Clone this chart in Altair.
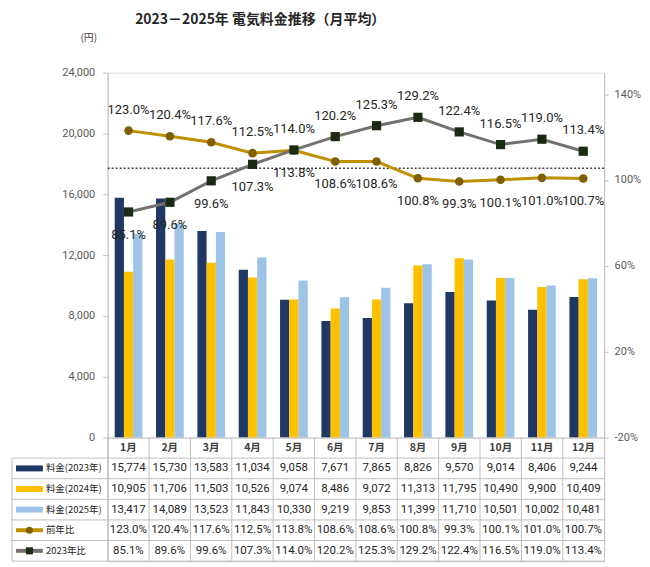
import altair as alt
import pandas as pd

# ---------------- data ----------------
MONTHS = ["1月", "2月", "3月", "4月", "5月", "6月", "7月", "8月", "9月", "10月", "11月", "12月"]
BAR_SERIES = ["料金(2023年)", "料金(2024年)", "料金(2025年)"]
FEE_2023 = [15774, 15730, 13583, 11034, 9058, 7671, 7865, 8826, 9570, 9014, 8406, 9244]
FEE_2024 = [10905, 11706, 11503, 10526, 9074, 8486, 9072, 11313, 11795, 10490, 9900, 10409]
FEE_2025 = [13417, 14089, 13523, 11843, 10330, 9219, 9853, 11399, 11710, 10501, 10002, 10481]
LINE_SERIES = ["前年比", "2023年比"]
YOY = [123.0, 120.4, 117.6, 112.5, 113.8, 108.6, 108.6, 100.8, 99.3, 100.1, 101.0, 100.7]
VS_2023 = [85.1, 89.6, 99.6, 107.3, 114.0, 120.2, 125.3, 129.2, 122.4, 116.5, 119.0, 113.4]
REF_LEVEL = [105.5]
LEFT_TICKS = [0, 4000, 8000, 12000, 16000, 20000, 24000]
RIGHT_TICKS = [-20, 20, 60, 100, 140]
TITLE = "2023－2025年 電気料金推移（月平均）"
UNIT = "(円)"

# ---------------- styles ----------------
BAR_COLORS = ["#1F3864", "#FFC000", "#9DC3E6"]
YOY_LINE, YOY_MARK = "#BF9000", "#7F6000"
VS_LINE, VS_MARK = "#767171", "#1B2A12"
AXIS_GRAY = "#BFBFBF"
TEXT_GRAY = "#595959"
TEXT_DARK = "#262626"
JP = "Noto Sans CJK JP"
NUM = "Roboto"
W, H, TH = 498, 366, 124

bar_df = pd.DataFrame(
    [{"month": m, "series": s, "value": v}
     for s, vals in zip(BAR_SERIES, [FEE_2023, FEE_2024, FEE_2025])
     for m, v in zip(MONTHS, vals)]
)
ratio_df = pd.DataFrame(
    [{"month": m, "series": s, "value": v}
     for s, vals in zip(LINE_SERIES, [YOY, VS_2023])
     for m, v in zip(MONTHS, vals)]
)

x_main = alt.X("month:N", sort=MONTHS,
               scale=alt.Scale(type="band", paddingInner=0.33, paddingOuter=0.17),
               axis=None)

bars = alt.Chart(bar_df).mark_bar().encode(
    x=x_main,
    xOffset=alt.XOffset("series:N", sort=BAR_SERIES),
    y=alt.Y("value:Q", scale=alt.Scale(domain=[0, 24000], nice=False),
            axis=alt.Axis(orient="left", values=LEFT_TICKS, format=",.0f", title=None,
                          grid=False, domainColor=AXIS_GRAY, tickColor=AXIS_GRAY,
                          tickSize=5, labelPadding=8, labelFont=NUM, labelFontSize=11,
                          labelColor=TEXT_GRAY)),
    color=alt.Color("series:N", sort=BAR_SERIES,
                    scale=alt.Scale(domain=BAR_SERIES, range=BAR_COLORS), legend=None),
)

y_right = alt.Y("value:Q", scale=alt.Scale(domain=[-20, 150], nice=False, zero=False),
                axis=alt.Axis(orient="right", values=RIGHT_TICKS, labelExpr="datum.value + '%'",
                              title=None, grid=False, domainColor=AXIS_GRAY,
                              tickColor=AXIS_GRAY, tickSize=4, labelPadding=6,
                              labelFont=NUM, labelFontSize=11, labelColor=TEXT_GRAY))

ref_rule = alt.Chart(pd.DataFrame({"value": REF_LEVEL})).mark_rule(
    color="#404040", strokeDash=[2, 2], strokeWidth=1.5).encode(y=y_right)

rbase = alt.Chart(ratio_df)
yoy_line = rbase.transform_filter(alt.datum.series == LINE_SERIES[0]).mark_line(
    color=YOY_LINE, strokeWidth=3).encode(x=x_main, y=y_right)
yoy_pts = rbase.transform_filter(alt.datum.series == LINE_SERIES[0]).mark_point(
    shape="circle", filled=True, size=75, color=YOY_MARK, opacity=1).encode(x=x_main, y=y_right)
vs_line = rbase.transform_filter(alt.datum.series == LINE_SERIES[1]).mark_line(
    color=VS_LINE, strokeWidth=3).encode(x=x_main, y=y_right)
vs_pts = rbase.transform_filter(alt.datum.series == LINE_SERIES[1]).mark_point(
    shape="square", filled=True, size=85, color=VS_MARK, opacity=1).encode(x=x_main, y=y_right)

lab = rbase.transform_joinaggregate(maxv="max(value)", groupby=["month"]).transform_calculate(
    label="format(datum.value, '.1f') + '%'")
lab_above = lab.transform_filter("datum.value == datum.maxv").mark_text(
    dy=-21, font=NUM, fontSize=13, color=TEXT_DARK).encode(x=x_main, y=y_right, text="label:N")
lab_below = lab.transform_filter("datum.value != datum.maxv").mark_text(
    dy=23, font=NUM, fontSize=13, color=TEXT_DARK).encode(x=x_main, y=y_right, text="label:N")

title_txt = alt.Chart(pd.DataFrame({"t": [TITLE]})).mark_text(
    font=JP, fontSize=14, fontWeight="bold", color=TEXT_DARK, align="center", baseline="middle"
).encode(text="t:N", x=alt.value(153), y=alt.value(-53))
unit_txt = alt.Chart(pd.DataFrame({"t": [UNIT]})).mark_text(
    font=JP, fontSize=10, color="#404040", align="center", baseline="middle"
).encode(text="t:N", x=alt.value(-19), y=alt.value(-35))

lines_group = alt.layer(ref_rule, yoy_line, vs_line, yoy_pts, vs_pts, lab_above, lab_below,
                        title_txt, unit_txt)

main = alt.layer(bars, lines_group).resolve_scale(y="independent").properties(width=W, height=H)

# ---------------- data table ----------------
row_labels = BAR_SERIES + LINE_SERIES
row_values = [
    [f"{v:,}" for v in FEE_2023],
    [f"{v:,}" for v in FEE_2024],
    [f"{v:,}" for v in FEE_2025],
    [f"{v:.1f}%" for v in YOY],
    [f"{v:.1f}%" for v in VS_2023],
]
cell_df = pd.DataFrame(
    [{"month": m, "pos": i + 1.5, "text": t}
     for i, vals in enumerate(row_values) for m, t in zip(MONTHS, vals)]
)
head_df = pd.DataFrame({"month": MONTHS, "pos": [0.5] * len(MONTHS)})
label_df = pd.DataFrame({"label": row_labels, "pos": [i + 1.5 for i in range(len(row_labels))]})
hline_df = pd.DataFrame({"pos": list(range(1, len(row_labels) + 2))})
vline_df = pd.DataFrame({"month": MONTHS})

x_tbl_scale = alt.Scale(type="band", paddingInner=0, paddingOuter=0)
x_tbl = alt.X("month:N", sort=MONTHS, scale=x_tbl_scale, axis=None)
y_tbl = alt.Y("pos:Q", scale=alt.Scale(domain=[0, 6], reverse=True, nice=False, zero=False), axis=None)

cells = alt.Chart(cell_df).mark_text(font=NUM, fontSize=11.5, color=TEXT_DARK).encode(
    x=x_tbl, y=y_tbl, text="text:N")
heads = alt.Chart(head_df).mark_text(font=JP, fontSize=10.5, fontWeight="bold", color="#404040").encode(
    x=x_tbl, y=y_tbl, text="month:N")
labels = alt.Chart(label_df).mark_text(font=JP, fontSize=9.5, color=TEXT_DARK, align="left").encode(
    x=alt.value(-62), y=y_tbl, text="label:N")
hlines = alt.Chart(hline_df).mark_rule(color=AXIS_GRAY, strokeWidth=1).encode(
    x=alt.value(-96), x2=alt.value(W), y=y_tbl)
vlines = alt.Chart(vline_df).mark_rule(color=AXIS_GRAY, strokeWidth=1).encode(
    x=alt.X("month:N", sort=MONTHS, scale=x_tbl_scale, axis=None, bandPosition=0))
lborder = alt.Chart(pd.DataFrame({"pos": [1], "pos2": [6]})).mark_rule(
    color=AXIS_GRAY, strokeWidth=1).encode(x=alt.value(-96), y=y_tbl, y2="pos2:Q")

bar_sw_df = label_df.iloc[:3].rename(columns={"label": "series"})
bar_sw = alt.Chart(bar_sw_df).mark_rule(strokeWidth=6).encode(
    x=alt.value(-92), x2=alt.value(-65), y=y_tbl,
    color=alt.Color("series:N", scale=alt.Scale(domain=BAR_SERIES, range=BAR_COLORS), legend=None))
yoy_sw_df = label_df.iloc[[3]]
vs_sw_df = label_df.iloc[[4]]
yoy_sw = alt.Chart(yoy_sw_df).mark_rule(strokeWidth=4, color=YOY_LINE).encode(
    x=alt.value(-92), x2=alt.value(-65), y=y_tbl)
yoy_sw_pt = alt.Chart(yoy_sw_df).mark_point(shape="circle", filled=True, size=50, color=YOY_MARK,
                                             opacity=1).encode(x=alt.value(-78.5), y=y_tbl)
vs_sw = alt.Chart(vs_sw_df).mark_rule(strokeWidth=4, color=VS_LINE).encode(
    x=alt.value(-92), x2=alt.value(-65), y=y_tbl)
vs_sw_pt = alt.Chart(vs_sw_df).mark_point(shape="square", filled=True, size=50, color=VS_MARK,
                                           opacity=1).encode(x=alt.value(-78.5), y=y_tbl)

table = alt.layer(hlines, vlines, lborder, bar_sw, yoy_sw, vs_sw, yoy_sw_pt, vs_sw_pt,
                  heads, cells, labels).properties(
    width=W, height=TH, view=alt.ViewBackground(stroke=AXIS_GRAY))

chart = alt.vconcat(main, table, spacing=0, bounds="flush").properties(
    padding={"left": 3, "top": 3, "right": 0, "bottom": 0}
).configure_view(stroke=None).configure(background="white")

chart.save("out.html", embed_options={"renderer": "svg", "actions": False})
